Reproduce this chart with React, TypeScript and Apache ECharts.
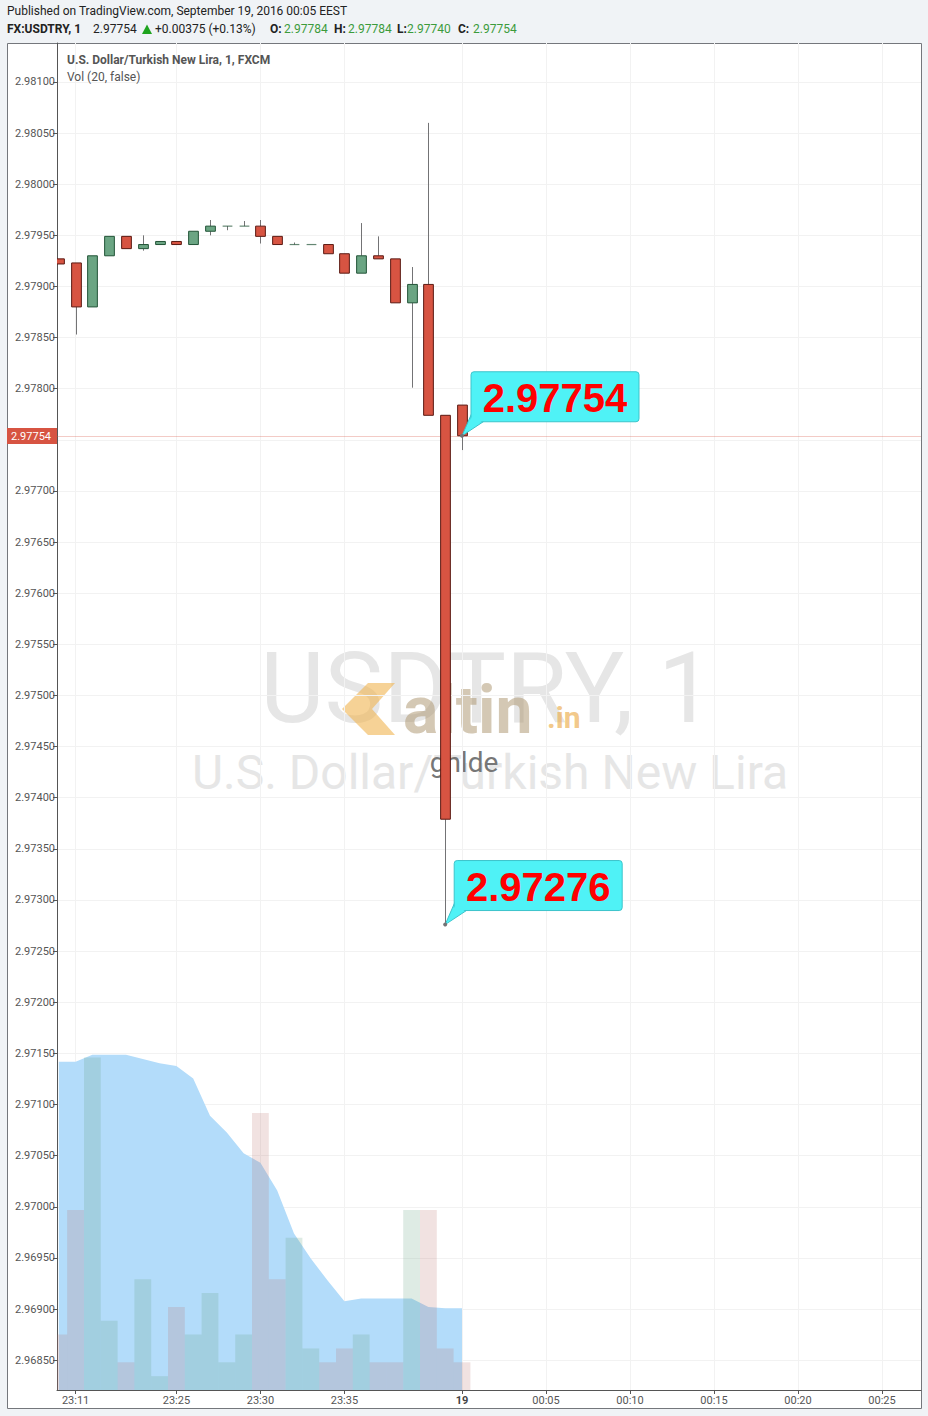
import React, { useEffect, useRef } from "react";
import * as echarts from "echarts";

// ---- data ----
const barIndex = [-24, -23, -22, -21, -20, -19, -18, -17, -16, -15, -14, -13, -12, -11, -10, -9, -8, -7, -6, -5, -4, -3, -2, -1, 0];
const openPrices = [2.97927, 2.97923, 2.9788, 2.9793, 2.97949, 2.97937, 2.97941, 2.97944, 2.97941, 2.97954, 2.97959, 2.97959, 2.97959, 2.97949, 2.97941, 2.97941, 2.97941, 2.97932, 2.97913, 2.9793, 2.97927, 2.97884, 2.97902, 2.97774, 2.97784];
const highPrices = [2.97927, 2.97923, 2.9793, 2.97949, 2.97949, 2.9795, 2.97944, 2.97944, 2.97954, 2.97965, 2.97959, 2.97964, 2.97965, 2.97949, 2.97943, 2.97941, 2.97941, 2.97932, 2.97962, 2.97949, 2.97927, 2.97919, 2.9806, 2.97774, 2.97784];
const lowPrices = [2.97922, 2.97853, 2.9788, 2.9793, 2.97937, 2.97935, 2.97941, 2.97941, 2.97941, 2.9795, 2.97955, 2.97959, 2.97942, 2.97941, 2.97941, 2.97941, 2.97932, 2.97913, 2.97913, 2.97927, 2.97884, 2.97801, 2.97774, 2.97276, 2.9774];
const closePrices = [2.97922, 2.9788, 2.9793, 2.97949, 2.97937, 2.97941, 2.97944, 2.97941, 2.97954, 2.97959, 2.97959, 2.97959, 2.97949, 2.97941, 2.97941, 2.97941, 2.97932, 2.97913, 2.9793, 2.97927, 2.97884, 2.97902, 2.97774, 2.97379, 2.97754];
const volumes = [4, 13, 24, 5, 2, 8, 1, 6, 4, 7, 2, 4, 20, 8, 11, 3, 2, 3, 4, 2, 2, 13, 13, 3, 2];
const volumeMA20 = [23.7, 23.7, 24.2, 24.2, 24.2, 23.9, 23.6, 23.4, 22.5, 19.8, 18.6, 17.1, 16.4, 14.4, 11.3, 9.5, 7.9, 6.4, 6.6, 6.6, 6.6, 6.6, 6.0, 5.9, 5.9];

const priceTicks = [2.9685, 2.969, 2.9695, 2.97, 2.9705, 2.971, 2.9715, 2.972, 2.9725, 2.973, 2.9735, 2.974, 2.9745, 2.975, 2.9755, 2.976, 2.9765, 2.977, 2.9775, 2.978, 2.9785, 2.979, 2.9795, 2.98, 2.9805, 2.981];
const timeTickIndex = [-23, -17, -12, -7, 0, 5, 10, 15, 20, 25];
const timeTickLabels = ["23:11", "23:25", "23:30", "23:35", "19", "00:05", "00:10", "00:15", "00:20", "00:25"];

const lastPrice = 2.97754;
const calloutBars = [0, -1];
const calloutPrices = [2.97754, 2.97276];
const calloutLabels = ["2.97754", "2.97276"];

const priceMin = 2.968208;
const priceMax = 2.981381;
const barMin = -24.107;
const barMax = 27.321;
const volumeMax = 97.26;

// ---- styles ----
const UP = "#6ba583";
const DOWN = "#d75442";
const UP_BORDER = "#225437";
const DOWN_BORDER = "#5b1a13";
const WICK = "#737375";
const FONT = "Roboto";

function buildOption(): any {
  const candleData = barIndex.map((b, k) => [b, openPrices[k], closePrices[k], lowPrices[k], highPrices[k]]);
  const volData = barIndex.map((b, k) => [b, volumes[k], closePrices[k] >= openPrices[k] ? 1 : 0]);
  const maData = barIndex.map((b, k) => [b, volumeMA20[k]]);
  const calloutData = calloutBars.map((b, k) => [b, calloutPrices[k]]);

  const hdr = (x: number, text: string, fill: string, bold = false) => ({
    type: "text",
    x,
    y: 29,
    z: 20,
    style: { text, fill, font: `${bold ? "bold " : ""}12px ${FONT}`, verticalAlign: "middle" },
  });

  return {
    animation: false,
    backgroundColor: "#f0f3f6",
    graphic: [
      { type: "rect", z: -10, shape: { x: 7.5, y: 43.5, width: 914, height: 1365 }, style: { fill: "#ffffff", stroke: "#74777c", lineWidth: 1 } },
      { type: "text", x: 7, y: 11, z: 20, style: { text: "Published on TradingView.com, September 19, 2016 00:05 EEST", fill: "#222", font: `12px ${FONT}`, verticalAlign: "middle" } },
      hdr(7, "FX:USDTRY, 1", "#222", true),
      hdr(93, "2.97754", "#222"),
      { type: "polygon", z: 20, shape: { points: [[142, 34], [152, 34], [147, 24.5]] }, style: { fill: "#1fa41f" } },
      hdr(155, "+0.00375 (+0.13%)", "#222"),
      hdr(270, "O:", "#222", true),
      hdr(284, "2.97784", "#3b9b3b"),
      hdr(334, "H:", "#222", true),
      hdr(348, "2.97784", "#3b9b3b"),
      hdr(397, "L:", "#222", true),
      hdr(407, "2.97740", "#3b9b3b"),
      hdr(458, "C:", "#222", true),
      hdr(473, "2.97754", "#3b9b3b"),
      { type: "text", x: 67, y: 60, z: 20, style: { text: "U.S. Dollar/Turkish New Lira, 1, FXCM", fill: "#555", font: `bold 12px ${FONT}`, verticalAlign: "middle" } },
      { type: "text", x: 67, y: 77, z: 20, style: { text: "Vol (20, false)", fill: "#555", font: `12px ${FONT}`, verticalAlign: "middle" } },
      // watermark
      { type: "text", x: 487, y: 688, z: -5, style: { text: "USDTRY, 1", fill: "#e6e6e6", font: `99px ${FONT}`, align: "center", verticalAlign: "middle" } },
      { type: "text", x: 490, y: 772, z: -5, style: { text: "U.S. Dollar/Turkish New Lira", fill: "#e6e6e6", font: `48px ${FONT}`, align: "center", verticalAlign: "middle" } },
      // altin.in overlay logo
      { type: "polygon", z: -4, shape: { points: [[368, 683], [395, 683], [372, 709], [395, 735], [368, 735], [342, 709]] }, style: { fill: "rgba(240,180,80,0.6)" } },
      { type: "text", x: 403, y: 710, z: -4, style: { text: "altin", fill: "rgba(170,145,105,0.5)", font: `bold 66px ${FONT}`, verticalAlign: "middle" } },
      { type: "text", x: 547, y: 717, z: -4, style: { text: ".in", fill: "rgba(235,170,70,0.65)", font: `bold 30px ${FONT}`, verticalAlign: "middle" } },
      { type: "text", x: 464, y: 762, z: -4, style: { text: "gnlde", fill: "#777", font: `28px ${FONT}`, align: "center", verticalAlign: "middle" } },
    ],
    grid: { left: 57, top: 43, width: 864, height: 1347, containLabel: false },
    xAxis: {
      type: "value",
      min: barMin,
      max: barMax,
      axisLine: { show: true, onZero: false, lineStyle: { color: "#555" } },
      axisTick: { show: true, length: 4, customValues: timeTickIndex, lineStyle: { color: "#555" } },
      axisLabel: {
        customValues: timeTickIndex,
        color: "#555",
        fontSize: 11,
        fontFamily: FONT,
        margin: 5,
        formatter: (v: number) => {
          const k = timeTickIndex.findIndex((t) => Math.abs(t - v) < 0.01);
          const s = k >= 0 ? timeTickLabels[k] : "";
          return s === "19" ? "{b|19}" : s;
        },
        rich: { b: { fontWeight: "bold", fontSize: 11, fontFamily: FONT, color: "#444" } },
      },
      splitLine: { show: true, lineStyle: { color: "#f2f2f2" } },
    },
    yAxis: [
      {
        type: "value",
        min: priceMin,
        max: priceMax,
        position: "left",
        axisLine: { show: true, onZero: false, lineStyle: { color: "#555" } },
        axisTick: { show: true, length: 4, customValues: priceTicks, lineStyle: { color: "#555" } },
        axisLabel: {
          customValues: priceTicks,
          color: "#555",
          fontSize: 11,
          fontFamily: FONT,
          margin: 2,
          formatter: (v: number) => v.toFixed(5),
        },
        splitLine: { show: true, lineStyle: { color: "#f2f2f2" } },
      },
      { type: "value", min: 0, max: volumeMax, show: false, splitLine: { show: false } },
    ],
    series: [
      {
        type: "line",
        name: "Vol MA",
        yAxisIndex: 1,
        data: maData,
        symbol: "none",
        lineStyle: { width: 0 },
        areaStyle: { color: "#b3dcfa", opacity: 1 },
        z: 1,
        silent: true,
      },
      {
        type: "custom",
        name: "Volume",
        yAxisIndex: 1,
        data: volData,
        z: 2,
        clip: true,
        encode: { x: 0, y: 1 },
        renderItem: (params: any, api: any) => {
          const b = api.value(0);
          const v = api.value(1);
          const up = api.value(2) === 1;
          const p1 = api.coord([b - 0.5, v]);
          const p2 = api.coord([b + 0.5, 0]);
          return {
            type: "rect",
            shape: { x: p1[0], y: p1[1], width: p2[0] - p1[0], height: p2[1] - p1[1] },
            style: { fill: up ? "rgba(107,165,131,0.22)" : "rgba(185,110,105,0.2)" },
          };
        },
      },
      {
        type: "custom",
        name: "Last price",
        data: [[0, lastPrice]],
        z: 3,
        clip: false,
        encode: { x: 0, y: 1 },
        renderItem: (params: any, api: any) => {
          const p = api.coord([api.value(0), api.value(1)]);
          const cs = params.coordSys;
          const y = Math.round(p[1]) + 0.5;
          return {
            type: "group",
            children: [
              { type: "line", shape: { x1: cs.x, y1: y, x2: cs.x + cs.width, y2: y }, style: { stroke: "rgba(215,84,66,0.3)", lineWidth: 1 } },
              { type: "rect", z2: 10, shape: { x: cs.x - 50, y: y - 8.5, width: 50, height: 16 }, style: { fill: DOWN } },
              {
                type: "text",
                z2: 11,
                x: cs.x - 46,
                y: y - 0.5,
                style: { text: api.value(1).toFixed(5), fill: "#fff", font: `11px ${FONT}`, verticalAlign: "middle" },
              },
            ],
          };
        },
      },
      {
        type: "custom",
        name: "USDTRY",
        data: candleData,
        z: 4,
        clip: true,
        encode: { x: 0, y: [1, 2, 3, 4] },
        renderItem: (params: any, api: any) => {
          const b = api.value(0);
          const o = api.value(1);
          const c = api.value(2);
          const l = api.value(3);
          const h = api.value(4);
          const pO = api.coord([b, o]);
          const pC = api.coord([b, c]);
          const pL = api.coord([b, l]);
          const pH = api.coord([b, h]);
          const w = api.size([1, 0])[0] * 0.58;
          const up = c >= o;
          const top = Math.min(pO[1], pC[1]);
          const bot = Math.max(pO[1], pC[1]);
          const cx = Math.round(pO[0]) + 0.5;
          const children: any[] = [];
          if (pH[1] < top - 0.5) children.push({ type: "line", shape: { x1: cx, y1: pH[1], x2: cx, y2: top }, style: { stroke: WICK, lineWidth: 1 } });
          if (pL[1] > bot + 0.5) children.push({ type: "line", shape: { x1: cx, y1: bot, x2: cx, y2: pL[1] }, style: { stroke: WICK, lineWidth: 1 } });
          if (bot - top < 1.5) {
            children.push({ type: "line", shape: { x1: cx - w / 2, y1: top, x2: cx + w / 2, y2: top }, style: { stroke: up ? UP_BORDER : DOWN_BORDER, lineWidth: 1.2, opacity: up ? 0.7 : 1 } });
            if (!up || o !== c) {
              children.push({ type: "rect", shape: { x: cx - w / 2, y: top - 1.5, width: w, height: 3 }, style: { fill: up ? UP : DOWN, stroke: up ? UP_BORDER : DOWN_BORDER, lineWidth: 1 } });
            }
          } else {
            children.push({ type: "rect", shape: { x: cx - w / 2, y: top, width: w, height: bot - top }, style: { fill: up ? UP : DOWN, stroke: up ? UP_BORDER : DOWN_BORDER, lineWidth: 1 } });
          }
          return { type: "group", children };
        },
      },
      {
        type: "custom",
        name: "Callouts",
        data: calloutData,
        z: 6,
        clip: false,
        encode: { x: 0, y: 1 },
        renderItem: (params: any, api: any) => {
          const p = api.coord([api.value(0), api.value(1)]);
          const label = calloutLabels[params.dataIndex];
          const bx = p[0] + 9;
          const by = p[1] - 64;
          const bw = 168;
          const bh = 50;
          return {
            type: "group",
            children: [
              { type: "polygon", shape: { points: [[p[0], p[1]], [bx + 1, by + bh - 9], [bx + 13, by + bh - 0.5]] }, style: { fill: "#4ff2f6", stroke: "#3cc4cb", lineWidth: 1 } },
              { type: "rect", shape: { x: bx, y: by, width: bw, height: bh, r: 3 }, style: { fill: "#4ff2f6", stroke: "#3cc4cb", lineWidth: 1 } },
              { type: "polygon", z2: 2, shape: { points: [[p[0] + 1.5, p[1] - 1.5], [bx + 2, by + bh - 7], [bx + 12, by + bh - 1.5]] }, style: { fill: "#4ff2f6" } },
              { type: "circle", z2: 3, shape: { cx: p[0], cy: p[1], r: 2 }, style: { fill: WICK } },
              {
                type: "text",
                z2: 4,
                x: bx + bw / 2,
                y: by + bh / 2 + 1,
                style: { text: label, fill: "#ff0000", font: "bold 40px 'Liberation Sans'", align: "center", verticalAlign: "middle" },
              },
            ],
          };
        },
      },
    ],
  };
}

export default function App() {
  const ref = useRef<HTMLDivElement>(null);
  useEffect(() => {
    if (!ref.current) return;
    const chart = echarts.init(ref.current, null, { renderer: "svg" });
    chart.setOption(buildOption());
    return () => chart.dispose();
  }, []);
  return <div ref={ref} style={{ position: "absolute", left: 0, top: 0, width: 928, height: 1416 }} />;
}
